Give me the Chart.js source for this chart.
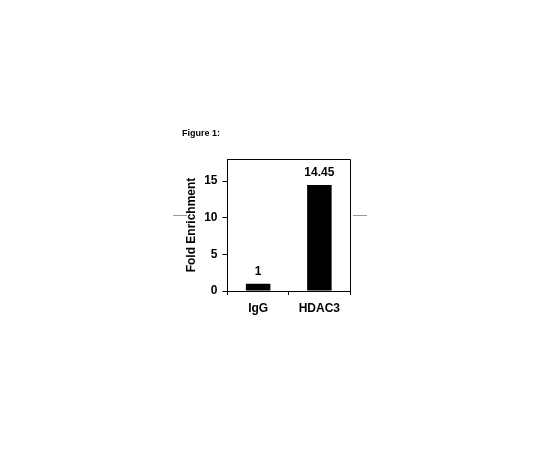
<!DOCTYPE html>
<html>
<head>
<meta charset="utf-8">
<script src="https://cdn.jsdelivr.net/npm/chart.js@4"></script>
<style>
  html, body { margin: 0; padding: 0; background: #fff; }
  canvas { display: block; }
</style>
</head>
<body>
<canvas id="figuur" width="540" height="450"></canvas>
<script>
const categorieen = ["IgG", "HDAC3"];
const verrijking = [1, 14.45];
const waardeLabels = ["1", "14.45"];
const yTicks = [0, 5, 10, 15];

const lettertype = "'Liberation Sans', Arial, Helvetica, sans-serif";

// kader, figuurtitel, waardes boven de staven en de grijze streepjes
const extraTekening = {
  id: "extraTekening",
  afterDraw(chart) {
    const { ctx, chartArea } = chart;
    ctx.save();

    ctx.strokeStyle = "#000";
    ctx.lineWidth = 1;
    ctx.beginPath();
    ctx.moveTo(chartArea.left, chartArea.top + 0.5);
    ctx.lineTo(chartArea.right + 0.5, chartArea.top + 0.5);
    ctx.lineTo(chartArea.right + 0.5, chartArea.bottom);
    ctx.stroke();

    ctx.strokeStyle = "#9a9a9a";
    ctx.beginPath();
    ctx.moveTo(173, 215.5);
    ctx.lineTo(187, 215.5);
    ctx.moveTo(353, 215.5);
    ctx.lineTo(367, 215.5);
    ctx.stroke();

    ctx.fillStyle = "#000";
    ctx.font = `bold 9px ${lettertype}`;
    ctx.textAlign = "left";
    ctx.textBaseline = "middle";
    ctx.fillText("Figure 1:", 182, 133.5);

    ctx.font = `bold 12px ${lettertype}`;
    ctx.textAlign = "center";
    chart.getDatasetMeta(0).data.forEach((staaf, i) => {
      ctx.fillText(waardeLabels[i], staaf.x, staaf.y - 12);
    });
    ctx.restore();
  },
};

new Chart(document.getElementById("figuur"), {
  type: "bar",
  data: {
    labels: categorieen,
    datasets: [
      {
        data: verrijking,
        backgroundColor: "#000",
        borderWidth: 0,
        barPercentage: 0.4,
        categoryPercentage: 1,
      },
    ],
  },
  options: {
    responsive: false,
    animation: false,
    devicePixelRatio: 1,
    layout: { padding: { left: 184, top: 159, right: 190, bottom: 129 } },
    plugins: {
      legend: { display: false },
      tooltip: { enabled: false },
    },
    scales: {
      x: {
        offset: true,
        grid: {
          offset: true,
          drawOnChartArea: false,
          drawTicks: true,
          tickLength: 4,
          color: "#000",
        },
        border: { display: true, color: "#000", width: 1 },
        ticks: {
          color: "#000",
          padding: 6,
          font: { family: lettertype, size: 12, weight: "bold" },
        },
        afterFit: (s) => { s.height = 30; },
      },
      y: {
        min: 0,
        max: 18,
        afterBuildTicks: (s) => {
          s.ticks = yTicks.map((v) => ({ value: v }));
        },
        grid: {
          drawOnChartArea: false,
          drawTicks: true,
          tickLength: 5,
          color: "#000",
        },
        border: { display: true, color: "#000", width: 1 },
        ticks: {
          color: "#000",
          padding: 5,
          font: { family: lettertype, size: 12, weight: "bold" },
        },
        title: {
          display: true,
          text: "Fold Enrichment",
          color: "#000",
          padding: 0,
          font: { family: lettertype, size: 12, weight: "bold" },
        },
        afterFit: (s) => { s.width = 43.5; },
      },
    },
  },
  plugins: [extraTekening],
});
</script>
</body>
</html>
